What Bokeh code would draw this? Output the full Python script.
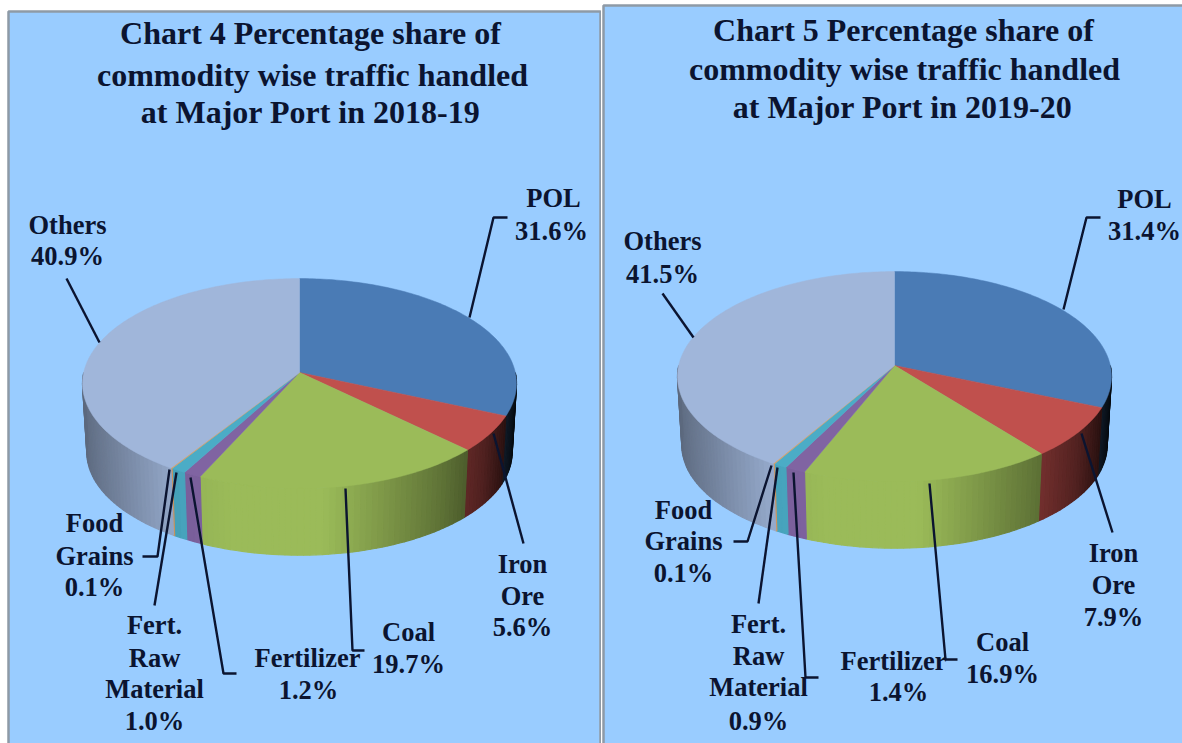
import numpy as np
from bokeh.plotting import figure
from bokeh.layouts import row
from bokeh.embed import file_html
from bokeh.resources import INLINE
from bokeh.core.properties import value

categories = ["POL", "Iron Ore", "Coal", "Fertilizer", "Fert. Raw Material", "Food Grains", "Others"]
share_2018 = [31.6, 5.6, 19.7, 1.2, 1.0, 0.1, 40.9]
share_2019 = [31.4, 7.9, 16.9, 1.4, 0.9, 0.1, 41.5]
slice_colors = ["#4A7BB5", "#C0504D", "#9BBB59", "#8064A2", "#4BACC6", "#D9A066", "#A0B6DA"]
title_2018 = ["Chart 4 Percentage share of", "commodity wise traffic handled", "at Major Port in 2018-19"]
title_2019 = ["Chart 5 Percentage share of", "commodity wise traffic handled", "at Major Port in 2019-20"]

BG = "#99CCFF"
INK = "#0B1430"
FONT = "Liberation Serif"
K, B, A = 0.105, 103.8, 215.8
SHRINK = 0.98

def project(t, cx, ay, depth=0.0, scale=1.0):
    u, v = np.sin(t), np.cos(t)
    d = 1 + K * v
    return cx + scale * A * u / d, ay + depth - scale * B * v / d

def shade(hex_color, xn):
    f = np.interp(xn, [-1, -0.8, -0.5, -0.3, 0.1, 0.3, 0.6, 0.8, 0.9, 1.0],
                  [0.58, 0.72, 0.95, 1.0, 1.0, 0.85, 0.62, 0.42, 0.25, 0.05])
    rgb = [int(hex_color[i:i + 2], 16) for i in (1, 3, 5)]
    return "#%02x%02x%02x" % tuple(int(c * f) for c in rgb)

def draw_pie(p, shares, cx, ay, depth):
    s = np.array(shares, dtype=float)
    edges = np.concatenate([[0], np.cumsum(s) / s.sum()]) * 2 * np.pi
    xs, ys, cols = [], [], []
    # extruded rim, as thin shaded strips along the near half
    for i, col in enumerate(slice_colors):
        a0, a1 = max(edges[i], np.pi / 2), min(edges[i + 1], 3 * np.pi / 2)
        if a1 <= a0:
            continue
        n = max(1, int(np.degrees(a1 - a0) / 1.5))
        ts = np.linspace(a0, a1, n + 1)
        for t0, t1 in zip(ts[:-1], ts[1:]):
            x0, y0 = project(t0, cx, ay)
            x1, y1 = project(t1, cx, ay)
            x2, y2 = project(t1, cx, ay, depth, SHRINK)
            x3, y3 = project(t0, cx, ay, depth, SHRINK)
            xs.append([x0, x1, x2, x3]); ys.append([y0, y1, y2, y3])
            cols.append(shade(col, np.sin((t0 + t1) / 2)))
    p.patches(xs, ys, fill_color=cols, line_color=cols, line_width=1.2)
    # top face
    xs, ys = [], []
    for i in range(len(s)):
        n = max(2, int(np.degrees(edges[i + 1] - edges[i])))
        ts = np.linspace(edges[i], edges[i + 1], n + 1)
        x, y = project(ts, cx, ay)
        xs.append(np.r_[cx, x].tolist()); ys.append(np.r_[ay, y].tolist())
    p.patches(xs, ys, fill_color=slice_colors, line_color=slice_colors, line_width=0.5)

def make_panel(x0, x1, left, right, top, width, shares, title, title_pts, cx, ay, depth, leaders, labels):
    p = figure(width=width, height=743, x_range=(x0, x1), y_range=(743, 0),
               x_axis_type=None, y_axis_type=None, toolbar_location=None,
               output_backend="svg", min_border=0, outline_line_color=None,
               background_fill_color="white", border_fill_color="white")
    p.grid.visible = False
    p.quad(left=[left], right=[right], top=[top], bottom=[770], fill_color=BG,
           line_color="#8E9AA6", line_width=2.5)
    draw_pie(p, shares, cx, ay, depth)
    p.multi_line([l[0] for l in leaders], [l[1] for l in leaders], line_color=INK, line_width=2.4)
    p.text([t[0] for t in title_pts], [t[1] for t in title_pts], text=title,
           text_font=value(FONT), text_font_style="bold", text_font_size="32px",
           text_color=INK, text_align="center", text_baseline="middle", y_offset=-2)
    p.text([l[0] for l in labels], [l[1] for l in labels], text=[l[2] for l in labels],
           text_font=value(FONT), text_font_style="bold", text_font_size="26.5px",
           text_color=INK, text_align="center", text_baseline="middle", y_offset=-2)
    return p

leaders_a = [([469, 493, 507], [317, 217, 217]), ([99, 66], [342, 278]), ([493, 523], [433, 543]),
             ([345, 352, 364], [488, 650, 650]), ([190, 223, 236], [477, 673, 673]),
             ([176, 154], [472, 605]), ([169, 157, 142], [469, 556, 556])]
labels_a = [(553, 199, "POL"), (551, 232, f"{share_2018[0]}%"), (67, 226, "Others"), (67, 257, f"{share_2018[6]}%"),
            (522, 565, "Iron"), (522, 597, "Ore"), (522, 628, f"{share_2018[1]}%"),
            (408, 633, "Coal"), (408, 665, f"{share_2018[2]}%"), (307, 659, "Fertilizer"), (308, 691, f"{share_2018[3]}%"),
            (154, 626, "Fert."), (154, 659, "Raw"), (154, 690, "Material"), (154, 722, f"{share_2018[4]}%"),
            (94, 524, "Food"), (94, 557, "Grains"), (94, 588, f"{share_2018[5]}%")]
leaders_b = [([1063, 1086, 1100], [309, 217, 217]), ([693, 662], [337, 293]), ([1081, 1112], [433, 532]),
             ([929, 945, 957], [483, 659, 659]), ([793, 805, 818], [472, 677, 677]),
             ([777, 758], [467, 603]), ([771, 747, 733], [465, 541, 541])]
labels_b = [(1144, 200, "POL"), (1144, 232, f"{share_2019[0]}%"), (662, 242, "Others"), (662, 275, f"{share_2019[6]}%"),
            (1113, 554, "Iron"), (1113, 586, "Ore"), (1113, 618, f"{share_2019[1]}%"),
            (1002, 643, "Coal"), (1002, 675, f"{share_2019[2]}%"), (893, 662, "Fertilizer"), (898, 693, f"{share_2019[3]}%"),
            (758, 625, "Fert."), (758, 657, "Raw"), (758, 688, "Material"), (758, 722, f"{share_2019[4]}%"),
            (683, 511, "Food"), (683, 542, "Grains"), (683, 574, f"{share_2019[5]}%")]

p1 = make_panel(0, 601, 8, 600, 11, 601, share_2018, title_2018, [(310, 34), (312, 76), (310, 113)],
                299, 372, 69, leaders_a, labels_a)
p2 = make_panel(601, 1182, 603, 1210, 5, 581, share_2019, title_2019, [(903, 31), (904, 70), (902, 108)],
                894, 365, 69, leaders_b, labels_b)

layout = row(p1, p2, spacing=0)
open("out.html", "w").write(file_html(layout, INLINE))
